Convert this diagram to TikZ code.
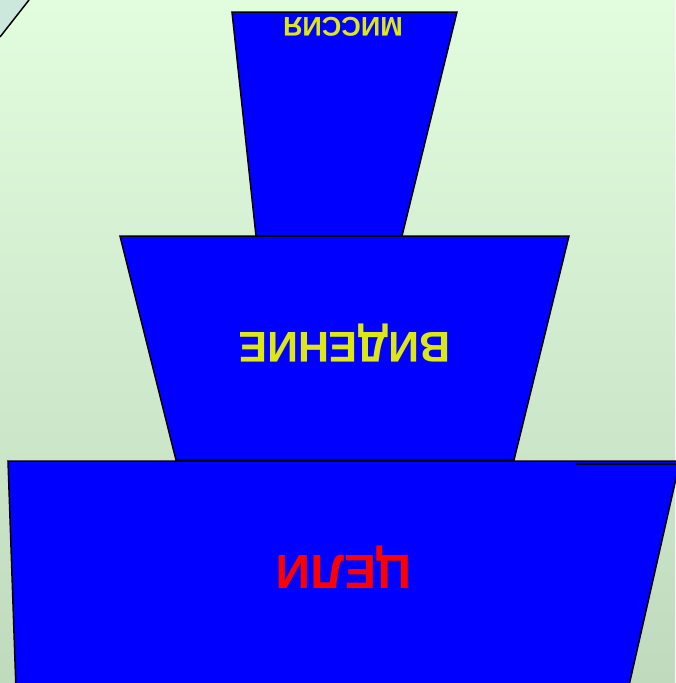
\documentclass[tikz,border=0pt]{standalone}
\usepackage{fontspec}
\setmainfont{Liberation Sans}
\definecolor{bgtop}{RGB}{226,252,222}
\definecolor{bgbot}{RGB}{192,218,190}
\definecolor{corner}{RGB}{204,232,220}
\definecolor{tierblue}{RGB}{0,0,255}
\definecolor{txtyellow}{RGB}{220,232,20}
\definecolor{txtred}{RGB}{255,0,0}
\tikzset{
  tier/.style={fill=tierblue,draw=black,line width=1.5pt,line join=miter},
  label/.style={rotate=180,inner sep=0pt,anchor=base},
}
\begin{document}
\begin{tikzpicture}[x=1pt,y=-1pt]
\useasboundingbox (0,0) rectangle (675,683);
\shade[top color=bgtop,bottom color=bgbot] (0,0) rectangle (675,683);
\fill[corner] (0,0) -- (29,0) -- (0,37) -- cycle;
\draw[line width=1.5pt] (29,0) -- (0,37);
% tiers
\draw[tier] (8,461) -- (680,461) -- (628,690) -- (16,690) -- cycle;
\draw[line width=1.5pt] (576,464) -- (680,464);
\draw[tier] (120,236) -- (569,236) -- (514,460) -- (176,460) -- cycle;
\draw[tier] (232,12) -- (457,12) -- (402,236) -- (256,236) -- cycle;
% labels
\node[label,text=txtyellow,font=\bfseries\fontsize{27}{27}\selectfont] (missia) at (343,17) {МИССИЯ};
\node[label,text=txtyellow,font=\bfseries\fontsize{43}{43}\selectfont] (videnie) at (344.5,332) {ВИДЕНИЕ};
\node[label,text=txtred,font=\bfseries\fontsize{48}{48}\selectfont] (celi) at (344,555) {ЦЕЛИ};
\end{tikzpicture}
\end{document}
